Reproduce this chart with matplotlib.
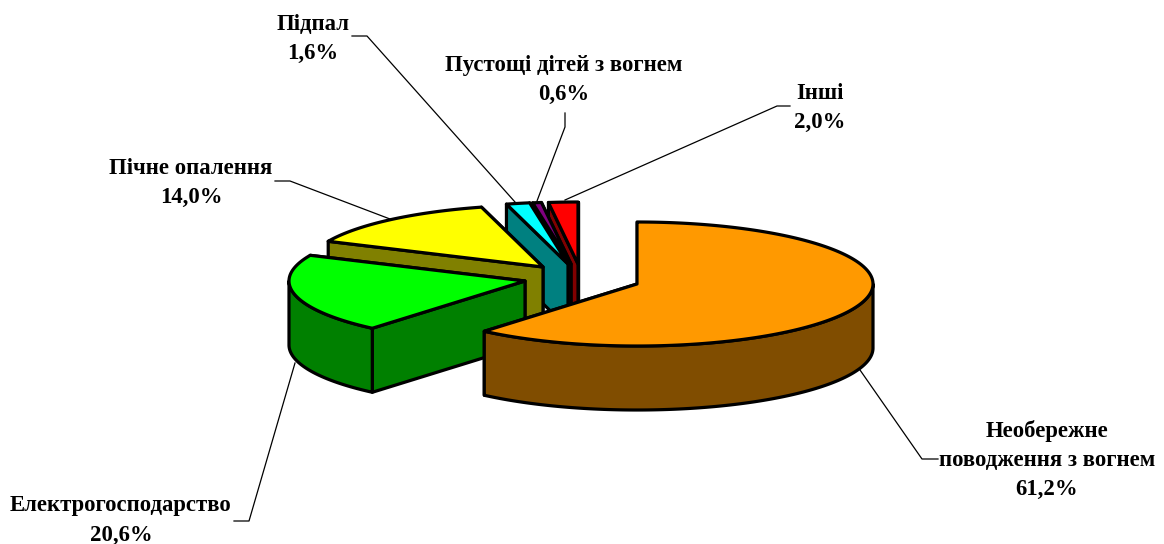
import numpy as np
import matplotlib
matplotlib.use("Agg")
import matplotlib.pyplot as plt
from matplotlib.patches import Polygon

names = ["Необережне\nповодження з вогнем", "Електрогосподарство", "Пічне опалення",
         "Підпал", "Пустощі дітей з вогнем", "Інші"]
shares = [61.2, 20.6, 14.0, 1.6, 0.6, 2.0]
value_labels = ["61,2%", "20,6%", "14,0%", "1,6%", "0,6%", "2,0%"]

top_colors = ["#FF9900", "#00FF00", "#FFFF00", "#00FFFF", "#800080", "#FF0000"]
side_colors = ["#804D00", "#008000", "#808000", "#008080", "#400040", "#800000"]

# pie geometry, pixels
RX, RY, DEPTH = 236, 62, 64
centers = [(637, 284), (525, 281), (543, 267), (568, 264), (571, 264), (578, 264)]

text_pos = [(1047, 460), (121, 520.5), (191, 182.5), (313, 39), (564, 80), (820, 108)]
leaders = [
    [(938, 459), (922, 459), (860, 370)],
    [(234, 521), (249, 521), (295, 363)],
    [(275, 181), (290, 181), (390, 219)],
    [(352, 36), (367, 36), (515, 202)],
    [(565, 113), (565, 127), (537, 201)],
    [(790, 106), (777, 106), (565, 200)],
]

LW = 2.3


def rim(cx, cy, t0, t1, dy=0):
    t = np.radians(np.linspace(t0, t1, max(int(abs(t1 - t0) * 2), 2)))
    return np.column_stack([cx + RX * np.sin(t), cy - RY * np.cos(t) + dy])


def face(cx, cy, t):
    p = rim(cx, cy, t, t + 1e-6)[0]
    return [(cx, cy), p, (p[0], p[1] + DEPTH), (cx, cy + DEPTH)]


def poly(ax, pts, color):
    ax.add_patch(Polygon(pts, closed=True, fc=color, ec="black", lw=LW, joinstyle="round"))


fig = plt.figure(figsize=(11.64, 5.44), dpi=100)
ax = fig.add_axes([0, 0, 1, 1])
ax.set_xlim(0, 1164)
ax.set_ylim(544, 0)
ax.axis("off")

edges = np.concatenate([[0], np.cumsum(shares)]) * 3.6

# back slices first, orange goes on top of everything
for i in [5, 4, 3, 2, 1, 0]:
    cx, cy = centers[i]
    t0, t1 = edges[i], edges[i + 1]
    poly(ax, face(cx, cy, t1), side_colors[i])
    poly(ax, face(cx, cy, t0), side_colors[i])
    a, b = max(t0, 90), min(t1, 270)
    if b > a:
        poly(ax, np.vstack([rim(cx, cy, a, b), rim(cx, cy, b, a, DEPTH)]), side_colors[i])
    poly(ax, np.vstack([[(cx, cy)], rim(cx, cy, t0, t1)]), top_colors[i])

for pts in leaders:
    xs, ys = zip(*pts)
    ax.plot(xs, ys, color="black", lw=0.9, zorder=1)

for name, val, (x, y) in zip(names, value_labels, text_pos):
    ax.text(x, y, name + "\n" + val, ha="center", va="center", family="Liberation Serif",
            fontweight="bold", fontsize=16.4, linespacing=1.5, color="black")

fig.savefig("out.png", dpi=100)
